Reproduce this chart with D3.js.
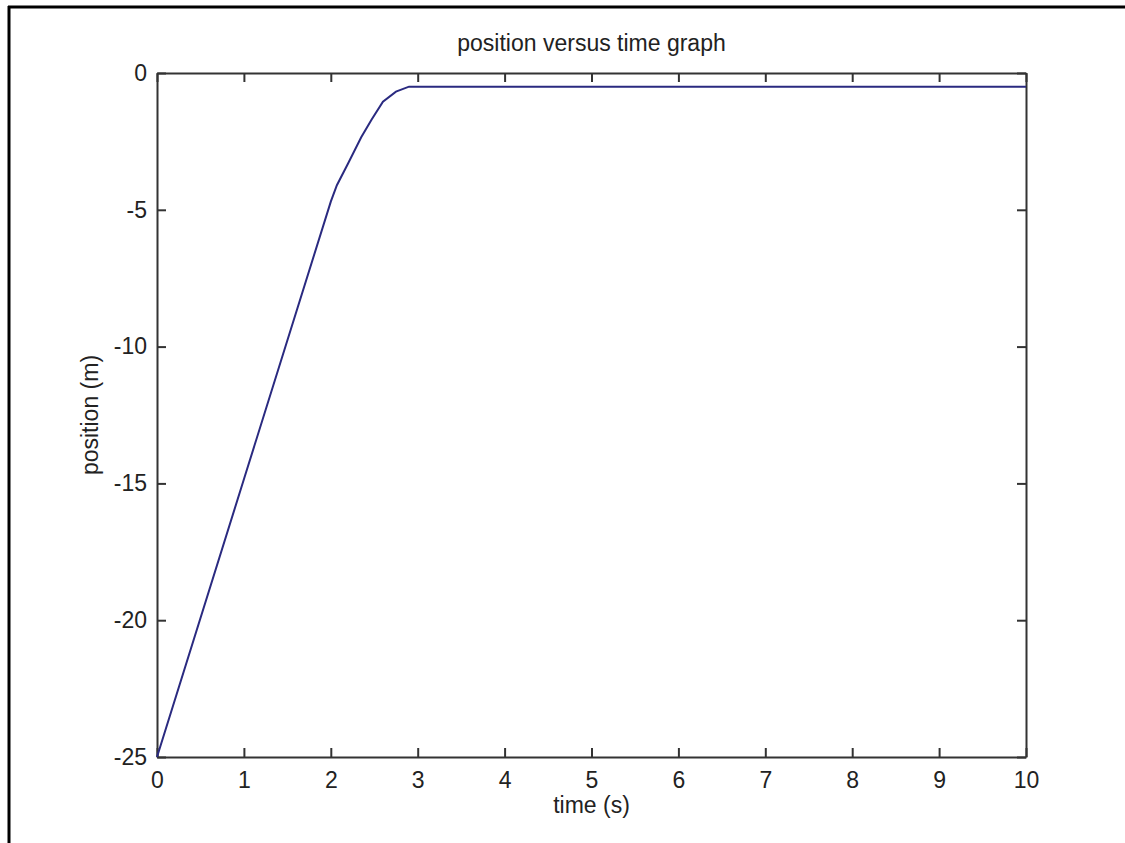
<!DOCTYPE html>
<html>
<head>
  <meta charset="utf-8" />
  <title>position versus time graph</title>
  <script src="https://cdnjs.cloudflare.com/ajax/libs/d3/7.8.5/d3.min.js"></script>
  <style>
    html, body { margin: 0; padding: 0; background: #fff; }
    text { font-family: "Liberation Sans", Arial, sans-serif; fill: #222; }
  </style>
</head>
<body>
<div id="chart"></div>
<script>
  // data
  var times = [0, 1, 2, 2.07, 2.2, 2.35, 2.47, 2.6, 2.75, 2.9, 10];
  var positions = [-25, -14.85, -4.7, -4.1, -3.3, -2.35, -1.7, -1.05, -0.68, -0.5, -0.5];
  var xTicks = [0, 1, 2, 3, 4, 5, 6, 7, 8, 9, 10];
  var yTicks = [0, -5, -10, -15, -20, -25];

  var width = 1125, height = 843;
  // plot box (window.top is reserved, so use other names)
  var boxLeft = 157, boxRight = 1026, boxTop = 73, boxBottom = 757;
  var fontSize = 23;

  var svg = d3.select("#chart")
    .append("svg")
    .attr("width", width)
    .attr("height", height);

  // outer frame (only left and top edges show)
  svg.append("line").attr("x1", 9).attr("x2", 9).attr("y1", 6).attr("y2", height)
    .attr("stroke", "#000").attr("stroke-width", 3);
  svg.append("line").attr("x1", 8).attr("x2", width).attr("y1", 7).attr("y2", 7)
    .attr("stroke", "#000").attr("stroke-width", 3);

  var x = d3.scaleLinear().domain([0, 10]).range([boxLeft, boxRight]);
  var y = d3.scaleLinear().domain([-25, 0]).range([boxBottom, boxTop]);

  // plain hyphen for negatives, like the original
  var plain = function(d) { return String(d); };

  function styleAxis(g) {
    g.select(".domain").attr("stroke", "#333").attr("stroke-width", 2);
    g.selectAll(".tick line").attr("stroke", "#333").attr("stroke-width", 2);
    g.selectAll(".tick text")
      .style("font-size", fontSize + "px")
      .style("font-family", "'Liberation Sans', Arial, sans-serif")
      .attr("fill", "#222");
  }

  svg.append("g")
    .attr("transform", "translate(0," + boxBottom + ")")
    .call(d3.axisBottom(x).tickValues(xTicks).tickFormat(plain)
      .tickSizeInner(-9).tickSizeOuter(0).tickPadding(15))
    .call(styleAxis);

  svg.append("g")
    .attr("transform", "translate(0," + boxTop + ")")
    .call(d3.axisTop(x).tickValues(xTicks).tickFormat("")
      .tickSizeInner(-9).tickSizeOuter(0))
    .call(styleAxis);

  svg.append("g")
    .attr("transform", "translate(" + boxLeft + ",0)")
    .call(d3.axisLeft(y).tickValues(yTicks).tickFormat(plain)
      .tickSizeInner(-9).tickSizeOuter(0).tickPadding(10))
    .call(styleAxis);

  svg.append("g")
    .attr("transform", "translate(" + boxRight + ",0)")
    .call(d3.axisRight(y).tickValues(yTicks).tickFormat("")
      .tickSizeInner(-9).tickSizeOuter(0))
    .call(styleAxis);

  var line = d3.line()
    .x(function(d, i) { return x(times[i]); })
    .y(function(d) { return y(d); });

  svg.append("path")
    .datum(positions)
    .attr("d", line)
    .attr("fill", "none")
    .attr("stroke", "#2a2a80")
    .attr("stroke-width", 2);

  // labels
  svg.append("text")
    .attr("x", (boxLeft + boxRight) / 2)
    .attr("y", 51)
    .attr("text-anchor", "middle")
    .style("font-size", fontSize + "px")
    .text("position versus time graph");

  svg.append("text")
    .attr("x", (boxLeft + boxRight) / 2)
    .attr("y", 813)
    .attr("text-anchor", "middle")
    .style("font-size", fontSize + "px")
    .text("time (s)");

  svg.append("text")
    .attr("transform", "translate(98," + ((boxTop + boxBottom) / 2) + ") rotate(-90)")
    .attr("text-anchor", "middle")
    .style("font-size", fontSize + "px")
    .text("position (m)");
</script>
</body>
</html>
